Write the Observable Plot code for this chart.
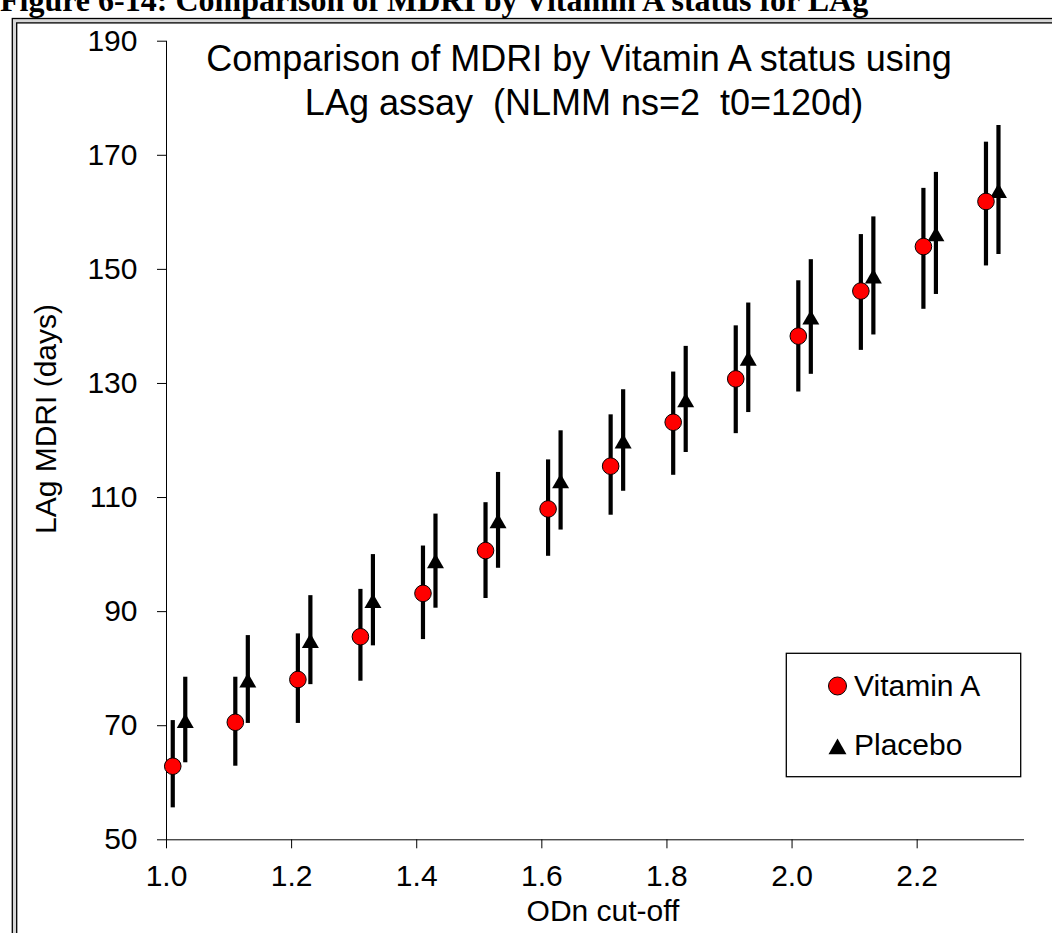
<!DOCTYPE html>
<html><head><meta charset="utf-8">
<script src="https://cdn.jsdelivr.net/npm/d3@7"></script>
<script src="https://cdn.jsdelivr.net/npm/@observablehq/plot@0.6"></script>
<style>
html,body{margin:0;padding:0;background:#fff;}
#wrap{position:relative;width:1052px;height:933px;overflow:hidden;font-family:"Liberation Sans",Arial,sans-serif;}
#wrap svg{position:absolute;left:0;top:0;}
</style></head><body>
<div id="wrap"></div>
<script>
// ---- data ----
const seriesNames = ["Vitamin A", "Placebo"];
const yTicks = [50, 70, 90, 110, 130, 150, 170, 190];
const xTicks = [1.0, 1.2, 1.4, 1.6, 1.8, 2.0, 2.2];

const vitAX    = [1.01, 1.11, 1.21, 1.31, 1.41, 1.51, 1.61, 1.71, 1.81, 1.91, 2.01, 2.11, 2.21, 2.31];
const vitAMdri = [62.9, 70.6, 78.1, 85.6, 93.2, 100.7, 108.0, 115.5, 123.2, 130.8, 138.3, 146.2, 154.0, 161.9];
const vitALo   = [55.6, 62.9, 70.4, 77.8, 85.1, 92.3, 99.7, 106.9, 113.9, 121.2, 128.5, 135.8, 143.0, 150.6];
const vitAHi   = [70.9, 78.5, 86.1, 93.9, 101.5, 109.1, 116.6, 124.5, 132.0, 140.1, 148.0, 156.1, 164.2, 172.3];

const placeboX    = [1.03, 1.13, 1.23, 1.33, 1.43, 1.53, 1.63, 1.73, 1.83, 1.93, 2.03, 2.13, 2.23, 2.33];
const placeboMdri = [71.0, 78.1, 85.0, 92.0, 99.0, 106.0, 113.0, 120.0, 127.2, 134.5, 141.7, 148.9, 156.3, 163.9];
const placeboLo   = [63.5, 70.4, 77.2, 84.0, 90.6, 97.6, 104.3, 111.1, 117.9, 124.9, 131.6, 138.5, 145.6, 152.6];
const placeboHi   = [78.5, 85.8, 92.8, 100.0, 107.1, 114.4, 121.7, 128.9, 136.5, 144.1, 151.7, 159.2, 167.0, 175.2];

const caption = "Figure 6-14: Comparison of MDRI by Vitamin A status for LAg";
const titleLines = ["Comparison of MDRI by Vitamin A status using", "LAg assay  (NLMM ns=2  t0=120d)"];
const xLabel = "ODn cut-off";
const yLabel = "LAg MDRI (days)";

// ---- tables ----
const vitA = vitAX.map((x, i) => ({x, y: vitAMdri[i], lo: vitALo[i], hi: vitAHi[i]}));
const placebo = placeboX.map((x, i) => ({x, y: placeboMdri[i], lo: placeboLo[i], hi: placeboHi[i]}));

const W = 1052, H = 933;
const wrap = d3.select("#wrap");

// ---- background frame + caption ----
const back = wrap.append("svg").attr("width", W).attr("height", H);
back.append("rect").attr("x", 12.3).attr("y", 18.5).attr("width", 3000).attr("height", 3000)
  .attr("fill", "#d6d6d6").attr("stroke", "black").attr("stroke-width", 1.3);
back.append("rect").attr("x", 16.7).attr("y", 22.9).attr("width", 3000).attr("height", 3000)
  .attr("fill", "white").attr("stroke", "black").attr("stroke-width", 1.3);
back.append("text").attr("x", 0).attr("y", 11)
  .attr("font-family", "'Liberation Serif','Times New Roman',serif").attr("font-weight", "bold")
  .attr("font-size", 32).text(caption);

// ---- chart ----
const chart = Plot.plot({
  width: W, height: H,
  marginLeft: 166, marginRight: 29, marginTop: 40.7, marginBottom: 93.7,
  style: {background: "transparent", color: "black", fontFamily: "'Liberation Sans',Arial,sans-serif", fontSize: "30px", overflow: "visible"},
  x: {domain: [1.0, 2.37], ticks: xTicks, tickFormat: d => d.toFixed(1), tickSize: 9, tickPadding: 16, line: true, label: null},
  y: {domain: [50, 190], ticks: yTicks, tickSize: 9, tickPadding: 20, line: true, label: null},
  marks: [
    Plot.ruleX(vitA, {x: "x", y1: "lo", y2: "hi", stroke: "black", strokeWidth: 4.2}),
    Plot.ruleX(placebo, {x: "x", y1: "lo", y2: "hi", stroke: "black", strokeWidth: 4.2}),
    Plot.dot(placebo, {x: "x", y: "y", symbol: "triangle", r: 6.3, fill: "black", stroke: "none", dy: 3}),
    Plot.dot(vitA, {x: "x", y: "y", r: 8.3, fill: "#ff0000", stroke: "black", strokeWidth: 1})
  ]
});
wrap.node().append(chart);
d3.select(chart).selectAll("[aria-label$='axis'] path, [aria-label$='axis'] line").attr("stroke-width", 1.3);

// ---- overlay: titles, axis labels, legend ----
const front = wrap.append("svg").attr("width", W).attr("height", H).style("pointer-events", "none")
  .attr("font-family", "'Liberation Sans',Arial,sans-serif");
const tg = front.append("g").attr("text-anchor", "middle").attr("font-size", 36);
tg.append("text").attr("x", 579).attr("y", 71).text(titleLines[0]);
tg.append("text").attr("x", 584).attr("y", 115).attr("xml:space", "preserve").style("white-space", "pre").text(titleLines[1]);

front.append("text").attr("x", 603).attr("y", 921).attr("text-anchor", "middle").attr("font-size", 30).text(xLabel);
front.append("text").attr("transform", "translate(56,419) rotate(-90)").attr("text-anchor", "middle")
  .attr("font-size", 30).text(yLabel);

const lg = front.append("g");
lg.append("rect").attr("x", 786.3).attr("y", 653.3).attr("width", 234.4).attr("height", 123.4)
  .attr("fill", "white").attr("stroke", "black").attr("stroke-width", 1.3);
lg.append("circle").attr("cx", 837.5).attr("cy", 686).attr("r", 9).attr("fill", "#ff0000").attr("stroke", "black");
lg.append("text").attr("x", 854).attr("y", 696).attr("font-size", 30).text(seriesNames[0]);
lg.append("path").attr("d", d3.symbol(d3.symbolTriangle, 140)()).attr("transform", "translate(837.5,749)").attr("fill", "black");
lg.append("text").attr("x", 854).attr("y", 755).attr("font-size", 30).text(seriesNames[1]);
</script>
</body></html>
